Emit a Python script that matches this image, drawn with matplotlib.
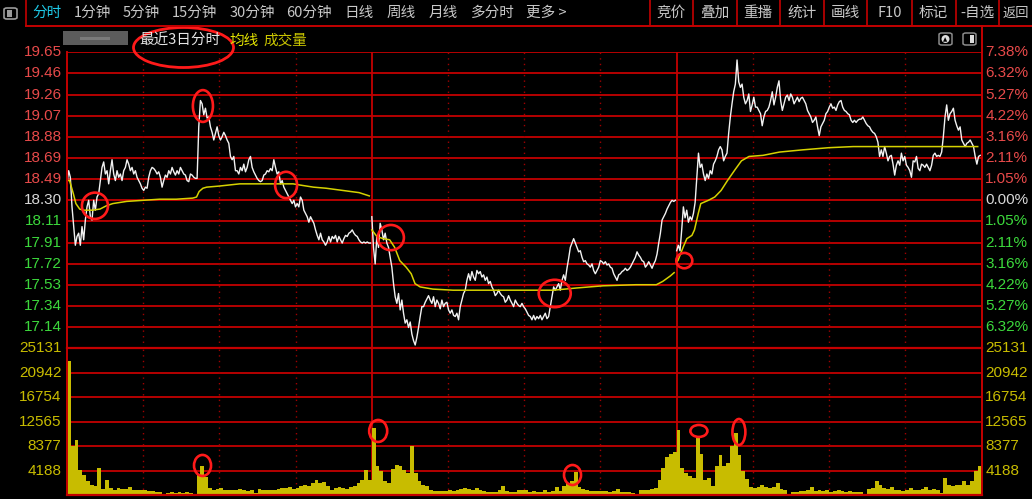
"""
Three-day intraday chart (最近3日分时) in the dark trading-terminal style:
price line + average line on top, per-3-minute volume below,
red grid, coloured price / percent labels and the red highlight circles.
"""
import numpy as np
import matplotlib
matplotlib.use("Agg")
import matplotlib.pyplot as plt
from matplotlib.lines import Line2D
from matplotlib.patches import Ellipse, Rectangle, FancyBboxPatch

CJK = ["Noto Sans CJK SC", "DejaVu Sans"]
NUM = ["Liberation Sans", "DejaVu Sans"]

# ---------------------------------------------------------------- data ----
PREV_CLOSE = 18.30
PRICE_FLOOR = 16.95
PRICE_TICKS = [19.65, 19.46, 19.26, 19.07, 18.88, 18.69, 18.49, 18.30,
               18.11, 17.91, 17.72, 17.53, 17.34, 17.14]
PCT_TICKS = ["7.38%", "6.32%", "5.27%", "4.22%", "3.16%", "2.11%", "1.05%", "0.00%",
             "1.05%", "2.11%", "3.16%", "4.22%", "5.27%", "6.32%"]
VOL_TOP = 25131
VOL_TICKS = [25131, 20942, 16754, 12565, 8377, 4188]
SESSION_MIN = 240   # minutes per trading day

day1_price = [
    18.45, 18.57, 18.51, 18.24, 18.06, 17.89, 17.97,
    18.00, 17.89, 18.06, 17.94, 18.12, 18.24, 18.30, 18.15, 18.12, 18.30, 18.21, 18.33,
    18.36, 18.48, 18.60, 18.65, 18.54, 18.57, 18.45, 18.57, 18.67, 18.54, 18.48, 18.57,
    18.51, 18.54, 18.48, 18.57, 18.60, 18.67, 18.63, 18.57, 18.60, 18.54, 18.57, 18.51,
    18.48, 18.45, 18.41, 18.39, 18.42, 18.41, 18.51, 18.57, 18.60, 18.59, 18.57, 18.54,
    18.56, 18.51, 18.42, 18.48, 18.53, 18.51, 18.57, 18.54, 18.60, 18.56, 18.53, 18.57,
    18.54, 18.60, 18.57, 18.54, 18.53, 18.48, 18.47, 18.54, 18.53, 18.51, 18.50, 18.50,
    18.97,
    19.21, 19.18, 19.08, 19.14, 19.05, 19.06, 18.97, 18.92, 18.85, 18.91, 18.97, 18.89,
    18.85, 18.88, 18.92, 18.89, 18.85, 18.82, 18.70, 18.67, 18.70, 18.57, 18.57, 18.54,
    18.60, 18.57, 18.63, 18.56, 18.60, 18.67, 18.70, 18.60, 18.56, 18.53, 18.50, 18.48,
    18.47, 18.48, 18.53, 18.54, 18.57, 18.56, 18.59, 18.57, 18.67, 18.60, 18.54, 18.56,
    18.45, 18.48, 18.42, 18.39, 18.36, 18.33, 18.30, 18.27, 18.30, 18.24, 18.27, 18.24,
    18.33, 18.30, 18.21, 18.18, 18.15, 18.10, 18.15, 18.12, 18.09, 18.03, 17.98, 17.94,
    18.00, 17.94, 17.92, 17.89, 17.92, 17.97, 17.92, 17.97, 17.95, 17.98, 17.92, 17.97,
    17.94, 17.91, 17.95, 17.98, 17.97, 18.00, 18.01, 18.03, 18.00, 17.98, 17.97, 17.94,
    17.92, 17.91, 17.92, 17.91, 17.92, 17.91, 17.91,
]
day2_price = [
    18.15, 17.87, 17.72, 17.97, 17.87, 18.09, 18.03, 17.94, 18.00, 17.91, 17.87, 17.78,
    17.69, 17.54, 17.42, 17.36, 17.45, 17.30, 17.39, 17.27, 17.18, 17.21, 17.14, 17.19,
    17.08, 17.02, 16.98, 17.05, 17.14, 17.24, 17.33, 17.33, 17.37, 17.40, 17.43, 17.39,
    17.36, 17.42, 17.33, 17.39, 17.36, 17.31, 17.39, 17.33, 17.36, 17.37, 17.30, 17.27,
    17.30, 17.25, 17.24, 17.27, 17.21, 17.33, 17.39, 17.45, 17.48, 17.57, 17.63, 17.57,
    17.65, 17.60, 17.57, 17.66, 17.63, 17.65, 17.60, 17.62, 17.57, 17.60, 17.54, 17.56,
    17.51, 17.48, 17.43, 17.45, 17.48, 17.45, 17.43, 17.42, 17.37, 17.39, 17.43, 17.39,
    17.36, 17.33, 17.39, 17.36, 17.34, 17.33, 17.36, 17.33, 17.31, 17.28, 17.25, 17.24,
    17.21, 17.25, 17.21, 17.24, 17.22, 17.25, 17.21, 17.24, 17.27, 17.22, 17.24, 17.33,
    17.42, 17.51, 17.48, 17.51, 17.54, 17.48, 17.57, 17.62, 17.57, 17.68, 17.77, 17.87,
    17.91, 17.95, 17.91, 17.87, 17.83, 17.84, 17.78, 17.74, 17.75, 17.72, 17.71, 17.69,
    17.72, 17.66, 17.63, 17.66, 17.69, 17.75, 17.74, 17.72, 17.74, 17.71, 17.72, 17.69,
    17.68, 17.63, 17.60, 17.57, 17.62, 17.63, 17.65, 17.66, 17.68, 17.66, 17.67, 17.69,
    17.72, 17.75, 17.78, 17.83, 17.80, 17.78, 17.75, 17.74, 17.69, 17.71, 17.74, 17.71,
    17.68, 17.72, 17.75, 17.81, 17.91, 18.00, 18.12, 18.15, 18.18, 18.22, 18.25, 18.28,
    18.30, 18.29, 18.30,
]
day3_price = [
    17.84, 17.89, 17.84, 18.03, 18.24, 18.14, 18.21, 18.10, 18.15, 18.12, 18.18, 18.28,
    18.51, 18.73, 18.60, 18.63, 18.54, 18.48, 18.54, 18.50, 18.57, 18.54, 18.63, 18.66,
    18.70, 18.76, 18.79, 18.76, 18.66, 18.70, 18.73, 18.91, 19.06, 19.18, 19.29, 19.36,
    19.58, 19.38, 19.33, 19.36, 19.24, 19.18, 19.21, 19.27, 19.11, 19.17, 19.24, 19.15,
    19.15, 19.12, 19.09, 18.98, 19.06, 19.11, 19.12, 19.15, 19.21, 19.29, 19.17, 19.24,
    19.33, 19.39, 19.21, 19.12, 19.18, 19.24, 19.26, 19.21, 19.27, 19.24, 19.18, 19.21,
    19.24, 19.20, 19.23, 19.24, 19.21, 19.18, 19.12, 19.09, 19.06, 19.01, 19.03, 19.06,
    18.97, 18.89, 18.97, 19.00, 19.03, 19.09, 19.11, 19.15, 19.18, 19.14, 19.15, 19.12,
    19.17, 19.20, 19.21, 19.15, 19.12, 19.11, 19.09, 19.08, 19.03, 19.01, 19.03, 19.01,
    19.03, 19.04, 19.04, 19.06, 19.03, 19.00, 18.98, 18.97, 18.94, 18.92, 18.91, 18.88,
    18.83, 18.70, 18.76, 18.70, 18.79, 18.73, 18.66, 18.70, 18.71, 18.63, 18.53, 18.62,
    18.66, 18.62, 18.73, 18.66, 18.70, 18.62, 18.60, 18.57, 18.51, 18.66, 18.65, 18.70,
    18.59, 18.57, 18.63, 18.62, 18.60, 18.63, 18.60, 18.57, 18.62, 18.71, 18.73, 18.70,
    18.71, 18.70, 18.74, 18.88, 19.06, 19.17, 19.03, 19.09, 19.11, 19.14, 19.03, 18.98,
    18.94, 18.97, 18.85, 18.82, 18.79, 18.82, 18.83, 18.85, 18.82, 18.79, 18.70, 18.63,
    18.70, 18.71,
]

# average-price line, (minute of session, price)
avg1_min = [0, 2, 5, 7, 10, 13, 15, 20, 26, 31, 36, 47, 60, 73, 86, 99, 102, 104, 107,
            110, 120, 136, 152, 178, 183, 194, 204, 217, 230, 238]
avg1_px = [18.48, 18.48, 18.36, 18.27, 18.22, 18.21, 18.21, 18.21, 18.22, 18.25, 18.27,
           18.29, 18.30, 18.31, 18.31, 18.32, 18.33, 18.38, 18.41, 18.42, 18.43, 18.45,
           18.45, 18.45, 18.44, 18.42, 18.41, 18.39, 18.37, 18.34]
avg2_min = [0, 4, 9, 14, 18, 22, 27, 31, 34, 38, 48, 64, 90, 117, 143, 161, 182, 208,
            224, 229, 235, 238]
avg2_px = [18.03, 17.97, 17.95, 17.94, 17.87, 17.75, 17.69, 17.63, 17.54, 17.51, 17.49,
           17.48, 17.48, 17.48, 17.48, 17.50, 17.52, 17.53, 17.53, 17.56, 17.61, 17.64]
avg3_min = [0, 1, 5, 8, 12, 14, 17, 19, 25, 30, 35, 40, 46, 51, 57, 68, 81, 99, 120,
            139, 178, 218, 237]
avg3_px = [17.74, 17.75, 17.87, 17.95, 17.98, 18.03, 18.18, 18.27, 18.30, 18.33, 18.39,
           18.48, 18.58, 18.66, 18.70, 18.71, 18.74, 18.76, 18.78, 18.79, 18.79, 18.79,
           18.79]

# volume, one value per 3 minutes
vol1 = [23000, 8400, 9500, 4400, 3500, 2400, 1800, 1650, 4600, 1000,
        2600, 1250, 970, 1250, 1080, 1080, 1420, 855, 970, 855,
        970, 740, 680, 510, 510, 285, 400, 630, 400, 510,
        400, 510, 400, 285, 3500, 5000, 3100, 1250, 970, 1080,
        1250, 855, 970, 970, 855, 1080, 970, 740, 855, 400,
        1080, 855, 970, 855, 910, 1030, 1200, 1250, 1420, 1080,
        1310, 1540, 1770, 1650, 2100, 2680, 2100, 2220, 1650, 970,
        1250, 1420, 1250, 1080, 1420, 1650, 2100, 2680, 4400, 2680]
vol2 = [11500, 5000, 4100, 2400, 2100, 4500, 5200, 4960, 4400, 3800,
        8400, 3800, 2500, 1820, 1650, 970, 800, 800, 680, 680,
        855, 680, 855, 1030, 1250, 1080, 855, 1250, 855, 680,
        570, 630, 630, 970, 1650, 680, 510, 630, 910, 855,
        970, 510, 680, 510, 630, 970, 630, 680, 1420, 680,
        1540, 2100, 2400, 3900, 1420, 1080, 910, 680, 680, 680,
        680, 800, 570, 680, 1080, 510, 510, 510, 450, 285,
        855, 855, 970, 1080, 1310, 2680, 4670, 6500, 7000, 7400]
vol3 = [11100, 4670, 3800, 3360, 2960, 9800, 7000, 2680, 2960, 1540,
        4960, 6950, 4960, 5530, 8380, 10600, 6950, 4100, 2800, 1420,
        1200, 1420, 1820, 1420, 1250, 1420, 2100, 1080, 855, 285,
        570, 630, 740, 800, 855, 1420, 800, 855, 680, 855,
        570, 680, 970, 680, 510, 680, 630, 570, 570, 285,
        1080, 1200, 2400, 1710, 1310, 1080, 1420, 970, 855, 740,
        970, 1310, 970, 970, 1080, 1420, 970, 1080, 970, 400,
        2960, 1820, 1650, 1770, 1820, 2400, 1820, 2400, 4100, 5000]

# red hand-drawn highlight rings: (minute, value, width in minutes, height in value)
price_rings = [(22, 18.25, 20.5, 0.24), (107, 19.16, 15.8, 0.29), (172.5, 18.44, 17.3, 0.24),
               (255, 17.96, 20.5, 0.23), (384, 17.45, 25.2, 0.25), (486, 17.75, 12.6, 0.14)]
vol_rings = [(106.7, 5100, 13.4, 3600), (245, 11000, 14.2, 3760), (398, 3470, 13.4, 3420),
             (497.5, 11000, 13.4, 2050), (529, 10820, 10.2, 4450)]

toolbar_left = ["分时", "1分钟", "5分钟", "15分钟", "30分钟", "60分钟", "日线", "周线",
                "月线", "多分时", "更多 >"]
toolbar_right = ["竞价", "叠加", "重播", "统计", "画线", "F10", "标记", "-自选", "返回"]

# ------------------------------------------------------------- styling ----
W, H = 1032, 499
GRID = "#c40000"
RING = "#ff1a1a"
UP, DOWN, FLAT = "#e84a4a", "#3cd83c", "#d8d8d8"
VOLC = "#c8bc00"
TXT = "#c8c8c8"
X0, X1 = 67, 981.5          # plot area in pixels
YP0, YP1, YV1 = 52.3, 348.3, 495.3


def fx(x):
    return x / W


def fy(y):
    return 1 - y / H


fig = plt.figure(figsize=(W / 100, H / 100), dpi=100, facecolor="black")
ax_p = fig.add_axes([fx(X0), fy(YP1), (X1 - X0) / W, (YP1 - YP0) / H])
ax_v = fig.add_axes([fx(X0), fy(YV1), (X1 - X0) / W, (YV1 - YP1) / H])
for ax in (ax_p, ax_v):
    ax.set_facecolor("black")
    ax.set_xlim(0, 3 * SESSION_MIN)
    ax.set_xticks([])
    ax.set_yticks([])
    for s in ax.spines.values():
        s.set_visible(False)
ax_p.set_ylim(PRICE_FLOOR, PRICE_TICKS[0])
ax_v.set_ylim(0, VOL_TOP)

# grid
for v in PRICE_TICKS:
    ax_p.axhline(v, color=GRID, lw=1.3, zorder=1)
for v in VOL_TICKS[1:]:
    ax_v.axhline(v, color=GRID, lw=1.3, zorder=1)
ax_v.axhline(0, color=GRID, lw=1.6, zorder=4, clip_on=False)
ax_v.axhline(VOL_TOP, color=GRID, lw=1.6, zorder=4, clip_on=False)
for ax in (ax_p, ax_v):
    for m in range(60, 3 * SESSION_MIN, 60):
        if m % SESSION_MIN == 0:
            ax.axvline(m, color=GRID, lw=1.3, zorder=1)
        else:
            ax.axvline(m, color="#a00000", lw=1.0, ls=(0, (1, 3)), zorder=1)
    ax.axvline(0, color=GRID, lw=1.4, zorder=4, clip_on=False)
    ax.axvline(3 * SESSION_MIN, color=GRID, lw=1.4, zorder=4, clip_on=False)

# price + average lines
for d, (px, am, ap) in enumerate([(day1_price, avg1_min, avg1_px),
                                  (day2_price, avg2_min, avg2_px),
                                  (day3_price, avg3_min, avg3_px)]):
    t = d * SESSION_MIN + np.linspace(0, SESSION_MIN - 1, len(px))
    ax_p.plot(t, px, color="#f2f2f2", lw=1.0, zorder=3)
    ax_p.plot(d * SESSION_MIN + np.asarray(am), ap, color="#d6d200", lw=1.1, zorder=3)

# volume
for d, vol in enumerate([vol1, vol2, vol3]):
    n = len(vol)
    step = SESSION_MIN / n
    x = d * SESSION_MIN + (np.arange(n) + 0.5) * step
    ax_v.bar(x, vol, width=step, color=VOLC, linewidth=0, zorder=2)

# axis labels
for v, pct in zip(PRICE_TICKS, PCT_TICKS):
    col = UP if v > PREV_CLOSE else (FLAT if v == PREV_CLOSE else DOWN)
    ax_p.text(-0.006, v, f"{v:.2f}", transform=ax_p.get_yaxis_transform(), ha="right",
              va="center", color=col, fontsize=11, family=NUM, clip_on=False)
    ax_p.text(1.004, v, pct, transform=ax_p.get_yaxis_transform(), ha="left",
              va="center", color=col, fontsize=11, family=NUM, clip_on=False)
for v in VOL_TICKS:
    for xa, ha in ((-0.006, "right"), (1.004, "left")):
        ax_v.text(xa, v, f"{v}", transform=ax_v.get_yaxis_transform(), ha=ha,
                  va="center", color=VOLC, fontsize=11, family=NUM, clip_on=False)

# highlight rings
for ax, rings in ((ax_p, price_rings), (ax_v, vol_rings)):
    for cx, cy, w, h in rings:
        ax.add_patch(Ellipse((cx, cy), w, h, fill=False, edgecolor=RING, lw=1.9,
                             zorder=6, clip_on=False))

# ------------------------------------------------------ toolbar/header ----
def hline(x0, x1, y, **kw):
    fig.add_artist(Line2D([fx(x0), fx(x1)], [fy(y), fy(y)], **kw))


def vline(x, y0, y1, **kw):
    fig.add_artist(Line2D([fx(x), fx(x)], [fy(y0), fy(y1)], **kw))


hline(26, W, 25.5, color=GRID, lw=1.4)
vline(26, 0, 25.5, color=GRID, lw=1.2)
vline(X1, 25.5, YP0, color=GRID, lw=1.4)
for x in (650, 692.7, 736.7, 780, 824, 867.3, 911.7, 955.7, 999.3):
    vline(x, 0, 25.5, color=GRID, lw=1.2)

left_x = [47, 92.5, 141.5, 194.5, 252, 309, 359, 401, 443.5, 492.5, 546]
for lab, x in zip(toolbar_left, left_x):
    fig.text(fx(x), fy(13), lab, ha="center", va="center", fontsize=10.5, family=CJK,
             color="#1ec8e6" if lab == "分时" else TXT)
right_x = [671, 714.5, 758, 802, 845.5, 889.5, 933.5, 977.5, 1016]
for lab, x in zip(toolbar_right, right_x):
    fig.text(fx(x), fy(13), lab, ha="center", va="center",
             fontsize=9.5 if lab == "返回" else 10.5, family=CJK, color=TXT)

# window icon at far left
fig.add_artist(FancyBboxPatch((fx(4), fy(19)), 13 / W, 11 / H,
                              boxstyle="round,pad=0,rounding_size=0.003",
                              transform=fig.transFigure, fill=False, ec="#9a9a9a", lw=1.2))
fig.add_artist(Rectangle((fx(6.5), fy(17)), 5 / W, 7 / H, transform=fig.transFigure,
                         fc="#9a9a9a", ec="none"))
# two small icons top right of chart
fig.add_artist(FancyBboxPatch((fx(939), fy(45)), 13 / W, 12 / H,
                              boxstyle="round,pad=0,rounding_size=0.003",
                              transform=fig.transFigure, fill=False, ec="#8a8a8a", lw=1.1))
fig.add_artist(Ellipse((fx(945.5), fy(39)), 8 / W, 8 / H, transform=fig.transFigure,
                       fc="#dcdcdc", ec="none"))
fig.text(fx(945.5), fy(39.5), "▲", ha="center", va="center", fontsize=4, color="black")
fig.add_artist(FancyBboxPatch((fx(963), fy(45)), 13 / W, 12 / H,
                              boxstyle="round,pad=0,rounding_size=0.003",
                              transform=fig.transFigure, fill=False, ec="#8a8a8a", lw=1.1))
fig.add_artist(Rectangle((fx(970), fy(43)), 4 / W, 8 / H, transform=fig.transFigure,
                         fc="#dcdcdc", ec="none"))

# header: blurred name, title and legend words
fig.add_artist(Rectangle((fx(63), fy(45)), 65 / W, 14 / H, transform=fig.transFigure,
                         fc="#5c5c5c", ec="none"))
fig.add_artist(Rectangle((fx(80), fy(40)), 30 / W, 3 / H, transform=fig.transFigure,
                         fc="#7a7a7a", ec="none"))
fig.text(fx(139), fy(40.5), "最近3日分时", ha="left", va="center", fontsize=10.5,
         family=CJK, color="#e6e6e6")
fig.text(fx(229), fy(40.5), "均线", ha="left", va="center", fontsize=10.5,
         family=CJK, color="#e4e400")
fig.text(fx(263), fy(40.5), "成交量", ha="left", va="center", fontsize=10.5,
         family=CJK, color="#c8c400")
fig.add_artist(Ellipse((fx(183.5), fy(47.5)), 100 / W, 40 / H, transform=fig.transFigure,
                       fill=False, ec=RING, lw=2.0))

fig.savefig("out.png", dpi=100, facecolor="black")
